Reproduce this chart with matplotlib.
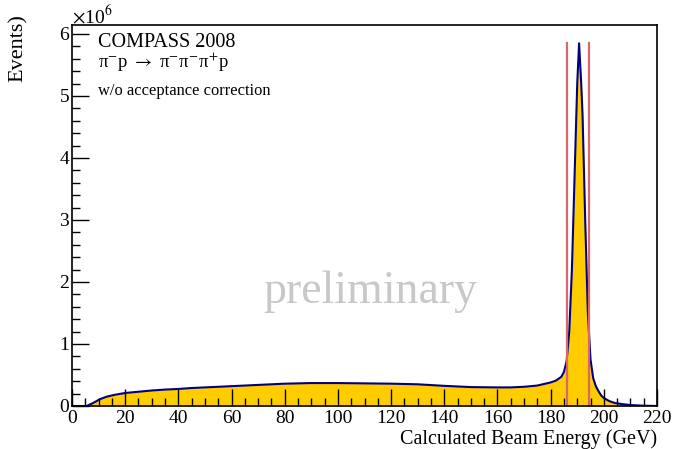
import matplotlib
matplotlib.use("Agg")
import matplotlib.pyplot as plt
from matplotlib.ticker import MultipleLocator

plt.rcParams['font.family'] = ['Liberation Serif', 'DejaVu Serif']
plt.rcParams['mathtext.fontset'] = 'stix'

# Calculated beam energy (GeV) and events (in units of 1e6)
energy = [0, 5.5, 8, 10.5, 13, 16, 20, 25, 30, 35, 40, 45, 50, 55, 60, 70, 80, 90,
          100, 110, 120, 130, 140, 150, 160, 165, 170, 175, 178, 180, 182, 184, 185,
          186, 187, 188, 189, 190, 190.7, 191.5, 192, 193, 194, 195, 196, 197, 198,
          199, 200, 202, 204, 207, 210, 215, 220]
events = [0, 0, 0.05, 0.11, 0.15, 0.18, 0.21, 0.23, 0.25, 0.265, 0.275, 0.29, 0.30,
          0.31, 0.32, 0.34, 0.36, 0.37, 0.37, 0.365, 0.36, 0.35, 0.325, 0.305, 0.30,
          0.30, 0.31, 0.33, 0.36, 0.38, 0.41, 0.47, 0.55, 0.72, 1.2, 2.2, 3.7, 5.2,
          5.85, 5.2, 4.7, 3.0, 1.5, 0.75, 0.45, 0.32, 0.24, 0.17, 0.13, 0.08, 0.05,
          0.03, 0.015, 0.005, 0]
cut_lines = [186.2, 194.4]
cut_top = 5.85

fig = plt.figure(figsize=(6.73, 4.49), dpi=100)
ax = fig.add_axes([72/673, 1-406/449, (657-72)/673, (406-25)/449])

ax.fill_between(energy, events, 0, color='#ffcc00', lw=0)
ax.plot(energy, events, color='#000080', lw=1.5)
for xc in cut_lines:
    ax.plot([xc, xc], [0, cut_top], color='#d9666a', lw=1.6)

ax.set_xlim(0, 220)
ax.set_ylim(0, (406-25)/62)
ax.xaxis.set_major_locator(MultipleLocator(20))
ax.xaxis.set_minor_locator(MultipleLocator(5))
ax.yaxis.set_major_locator(MultipleLocator(1))
ax.yaxis.set_minor_locator(MultipleLocator(0.2))
ax.tick_params(which='both', direction='in', top=False, right=False, labelsize=14,
               width=1.0, color='black')
ax.tick_params(which='major', length=12)
ax.tick_params(which='minor', length=6)
ax.tick_params(axis='x', pad=3)
ax.tick_params(axis='y', pad=2)
for s in ax.spines.values():
    s.set_linewidth(1.2)

fig.text(72/673, 1-23/449, r'$\times$10$^{6}$', fontsize=14, ha='left', va='baseline')
fig.text(98/673, 1-47/449, 'COMPASS 2008', fontsize=14.5, ha='left', va='baseline')
fig.text(98/673, 1-68/449, r'π$^{\mathsf{-}}$p $\rightarrow$ π$^{\mathsf{-}}$π$^{\mathsf{-}}$π$^{+}$p',
         fontsize=13.5, ha='left', va='baseline')
fig.text(98/673, 1-95/449, 'w/o acceptance correction', fontsize=11.9, ha='left', va='baseline')
fig.text(370/673, 1-292/449, 'preliminary', fontsize=33, color='#c8c8c8',
         ha='center', va='center')
fig.text(18/673, 1-48/449, 'Events)', fontsize=16, rotation=90, ha='center', va='center')
fig.text(657/673, 1-439/449, 'Calculated Beam Energy (GeV)', fontsize=14.5,
         ha='right', va='center')

fig.savefig('out.png', dpi=100)
